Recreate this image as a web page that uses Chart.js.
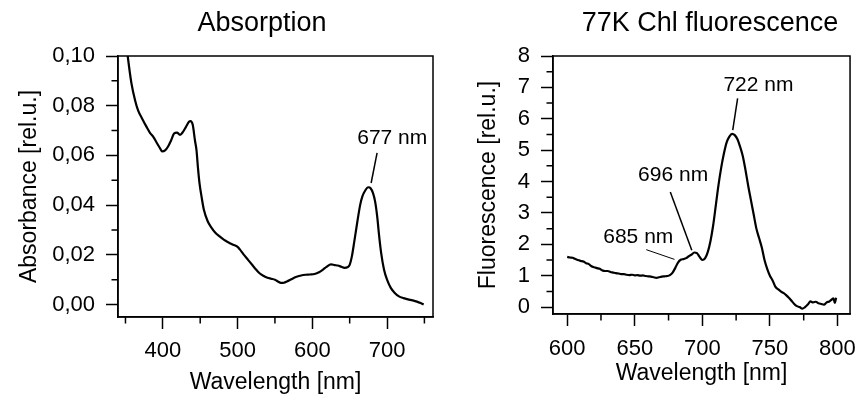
<!DOCTYPE html>
<html>
<head>
<meta charset="utf-8">
<script src="https://cdn.jsdelivr.net/npm/chart.js@4.4.1/dist/chart.umd.min.js"></script>
<style>
  html, body { margin: 0; padding: 0; background: #fff; }
  #wrap { position: relative; width: 866px; height: 395px; overflow: hidden; }
  #absChart { position: absolute; left: 0; top: 0; }
  #fluChart { position: absolute; left: 440px; top: 0; }
</style>
</head>
<body>
<div id="wrap">
  <canvas id="absChart" width="440" height="395"></canvas>
  <canvas id="fluChart" width="426" height="395"></canvas>
</div>
<script>
const FONT = "'Liberation Sans', Arial, sans-serif";
Chart.defaults.font.family = FONT;
Chart.defaults.color = '#000';

// absorption spectrum (left panel)
const absWavelength = [350, 353, 358, 363, 367, 372, 378, 383, 387, 392, 396, 399, 403, 407, 411, 415, 419, 423, 427, 431,
  435, 437, 440, 443, 445, 447, 449, 452, 455, 460, 465, 470, 476, 482, 488, 494, 500, 503, 508, 514,
  520, 525, 529, 535, 540, 545, 550, 554, 558, 562, 566, 572, 578, 585, 591, 597, 603, 609, 614, 619,
  625, 630, 634, 639, 643, 647, 650, 653, 656, 660, 664, 667, 671, 675, 678, 681, 684, 687, 689, 692,
  696, 700, 705, 710, 716, 722, 728, 734, 740, 745, 749];
const absValue = [0.108, 0.100, 0.089, 0.082, 0.078, 0.075, 0.0716, 0.069, 0.0676, 0.065, 0.063, 0.0616, 0.0620, 0.0636, 0.0660, 0.0688, 0.0692, 0.0683, 0.0695, 0.0715,
  0.0735, 0.0738, 0.0723, 0.066, 0.0622, 0.055, 0.049, 0.043, 0.038, 0.0335, 0.031, 0.0290, 0.0274, 0.0260, 0.0250, 0.0241, 0.0232, 0.0222, 0.0202, 0.0180,
  0.0158, 0.0140, 0.0127, 0.0115, 0.0108, 0.0104, 0.0100, 0.0093, 0.0087, 0.0088, 0.0093, 0.0102, 0.0111, 0.0117, 0.0120, 0.0121, 0.0123, 0.0130, 0.0140, 0.0152,
  0.0162, 0.0159, 0.0157, 0.0152, 0.0148, 0.0150, 0.0160, 0.0195, 0.0250, 0.0328, 0.0400, 0.0435, 0.0460, 0.0472, 0.0468, 0.0450, 0.0415, 0.0350, 0.0288, 0.0210,
  0.0140, 0.0100, 0.0067, 0.0048, 0.0033, 0.0026, 0.0021, 0.0017, 0.0012, 0.0006, 0.0000];
const absTicksX = [400, 500, 600, 700];
const absTicksY = [0, 0.02, 0.04, 0.06, 0.08, 0.10];
const absMinorX = [350, 450, 550, 650, 750];
const absMinorY = [0.01, 0.03, 0.05, 0.07, 0.09];

// 77K fluorescence (right panel)
const fluWavelength = [600, 602, 604, 606, 608, 610, 612, 614, 616, 618, 620, 622, 624, 626, 628, 630, 632, 634, 636, 638,
  640, 642, 644, 646, 648, 650, 652, 654, 656, 658, 660, 662, 664, 666, 668, 670, 672, 674, 676, 678,
  680, 682, 684, 686, 688, 690, 692, 694, 696, 698, 700, 702, 704, 706, 708, 710, 712, 714, 716, 718,
  720, 722, 724, 726, 728, 730, 732, 734, 736, 738, 740, 742, 744, 746, 748, 750, 752, 754, 756, 758,
  760, 762, 764, 766, 768, 770, 772, 774, 776, 778, 780, 782, 784, 786, 788, 790, 792, 794, 796, 797, 798, 799];
const fluValue = [1.60, 1.58, 1.57, 1.53, 1.50, 1.47, 1.45, 1.40, 1.37, 1.30, 1.27, 1.24, 1.22, 1.17, 1.15, 1.15, 1.12, 1.10, 1.08, 1.07,
  1.05, 1.05, 1.03, 1.02, 1.03, 1.01, 1.02, 1.00, 1.01, 0.99, 0.98, 0.97, 0.95, 0.93, 0.95, 0.97, 0.98, 0.99, 1.02, 1.10,
  1.25, 1.42, 1.51, 1.53, 1.56, 1.62, 1.67, 1.74, 1.72, 1.60, 1.50, 1.55, 1.75, 2.10, 2.60, 3.25, 3.90, 4.45, 4.90, 5.25,
  5.43, 5.52, 5.48, 5.35, 5.10, 4.80, 4.35, 3.85, 3.40, 2.95, 2.50, 2.20, 1.90, 1.50, 1.22, 1.00, 0.85, 0.65, 0.57, 0.50,
  0.45, 0.38, 0.30, 0.20, 0.10, 0.03, 0.00, -0.05, 0.00, 0.08, 0.18, 0.15, 0.17, 0.12, 0.10, 0.08, 0.15, 0.18, 0.25, 0.28, 0.13, 0.30];
const fluTicksX = [600, 650, 700, 750, 800];
const fluTicksY = [0, 1, 2, 3, 4, 5, 6, 7, 8];
const fluMinorX = [625, 675, 725, 775];
const fluMinorY = [0.5, 1.5, 2.5, 3.5, 4.5, 5.5, 6.5, 7.5];

// peak labels, in data coordinates
const absNotes = [
  { text: '677 nm', at: [707, 0.0669], from: [686.7, 0.061], to: [678.7, 0.0489] }
];
const fluNotes = [
  { text: '722 nm', at: [741.5, 7.07], from: [726.1, 6.65], to: [722.5, 5.64] },
  { text: '696 nm', at: [678.4, 4.20], from: [676.3, 3.67], to: [692.2, 1.81] },
  { text: '685 nm', at: [652.6, 2.23], from: [658.5, 1.83], to: [679.4, 1.52], thin: true }
];

// box, minor ticks, panel title and peak labels
const framePlugin = {
  id: 'frame',
  afterDraw(chart, args, opts) {
    const ctx = chart.ctx;
    const a = chart.chartArea;
    const sx = chart.scales.x, sy = chart.scales.y;
    ctx.save();
    ctx.strokeStyle = '#000';
    ctx.fillStyle = '#000';
    ctx.lineWidth = 1.5;
    ctx.strokeRect(a.left, a.top, a.right - a.left, a.bottom - a.top);

    ctx.beginPath();
    opts.minorX.forEach(v => {
      const px = sx.getPixelForValue(v);
      ctx.moveTo(px, a.bottom);
      ctx.lineTo(px, a.bottom + 6.5);
    });
    opts.minorY.forEach(v => {
      const py = sy.getPixelForValue(v);
      ctx.moveTo(a.left, py);
      ctx.lineTo(a.left - 6.5, py);
    });
    ctx.stroke();

    ctx.textAlign = 'center';
    ctx.textBaseline = 'middle';
    ctx.font = '27px ' + FONT;
    ctx.fillText(opts.title, opts.titleX, opts.titleY);

    ctx.font = '21px ' + FONT;
    opts.notes.forEach(n => {
      ctx.lineWidth = n.thin ? 1 : 1.5;
      ctx.beginPath();
      ctx.moveTo(sx.getPixelForValue(n.from[0]), sy.getPixelForValue(n.from[1]));
      ctx.lineTo(sx.getPixelForValue(n.to[0]), sy.getPixelForValue(n.to[1]));
      ctx.stroke();
      ctx.fillText(n.text, sx.getPixelForValue(n.at[0]), sy.getPixelForValue(n.at[1]));
    });
    ctx.restore();
  }
};

const axisGrid = {
  drawOnChartArea: false,
  drawTicks: true,
  tickLength: 12,
  tickWidth: 1.5,
  tickColor: '#000',
  color: '#000'
};
const axisBorder = { display: true, color: '#000', width: 1.5 };

function panel(p) {
  return {
    type: 'line',
    data: {
      datasets: [{
        data: p.wl.map((x, i) => ({ x: x, y: p.val[i] })),
        borderColor: '#000',
        borderWidth: 2.2,
        pointRadius: 0,
        cubicInterpolationMode: 'monotone',
        fill: false,
        clip: 0
      }]
    },
    options: {
      responsive: false,
      animation: false,
      events: [],
      layout: { padding: { left: 0, top: 56, right: p.padRight, bottom: 0 } },
      plugins: {
        legend: { display: false },
        tooltip: { enabled: false },
        frame: { title: p.title, titleX: p.titleX, titleY: 24, minorX: p.minorX, minorY: p.minorY, notes: p.notes }
      },
      scales: {
        x: {
          type: 'linear',
          min: p.xMin, max: p.xMax,
          grid: axisGrid,
          border: axisBorder,
          afterBuildTicks: s => { s.ticks = p.ticksX.map(v => ({ value: v })); },
          afterFit: s => { s.height = p.xHeight; },
          ticks: { autoSkip: false, maxRotation: 0, padding: p.xPad, font: { size: 22 } },
          title: { display: true, text: 'Wavelength [nm]', font: { size: 23, lineHeight: 1 }, padding: { top: 0, bottom: p.xTitlePad } }
        },
        y: {
          type: 'linear',
          min: p.yMin, max: p.yMax,
          grid: axisGrid,
          border: axisBorder,
          afterBuildTicks: s => { s.ticks = p.ticksY.map(v => ({ value: v })); },
          afterFit: s => { s.width = p.yWidth; },
          ticks: { autoSkip: false, padding: p.yPad, font: { size: 22 }, callback: p.yFormat },
          title: { display: true, text: p.yTitle, font: { size: 23, lineHeight: 1 }, padding: { top: p.yTitlePad, bottom: 0 } }
        }
      }
    },
    plugins: [framePlugin]
  };
}

new Chart(document.getElementById('absChart'), panel({
  wl: absWavelength, val: absValue,
  ticksX: absTicksX, ticksY: absTicksY, minorX: absMinorX, minorY: absMinorY, notes: absNotes,
  title: 'Absorption', titleX: 262,
  xMin: 340, xMax: 761.5, yMin: -0.005, yMax: 0.10,
  padRight: 7, xHeight: 78, yWidth: 118,
  xPad: 8.5, yPad: 11, xTitlePad: 1, yTitlePad: 18.5,
  yTitle: 'Absorbance [rel.u.]',
  yFormat: v => v.toFixed(2).replace('.', ',')
}));

new Chart(document.getElementById('fluChart'), panel({
  wl: fluWavelength, val: fluValue,
  ticksX: fluTicksX, ticksY: fluTicksY, minorX: fluMinorX, minorY: fluMinorY, notes: fluNotes,
  title: '77K Chl fluorescence', titleX: 270,
  xMin: 589.5, xMax: 809.3, yMin: -0.22, yMax: 8,
  padRight: 4, xHeight: 81, yWidth: 113,
  xPad: 10, yPad: 11, xTitlePad: 10, yTitlePad: 37.5,
  yTitle: 'Fluorescence [rel.u.]',
  yFormat: v => String(v)
}));
</script>
</body>
</html>
